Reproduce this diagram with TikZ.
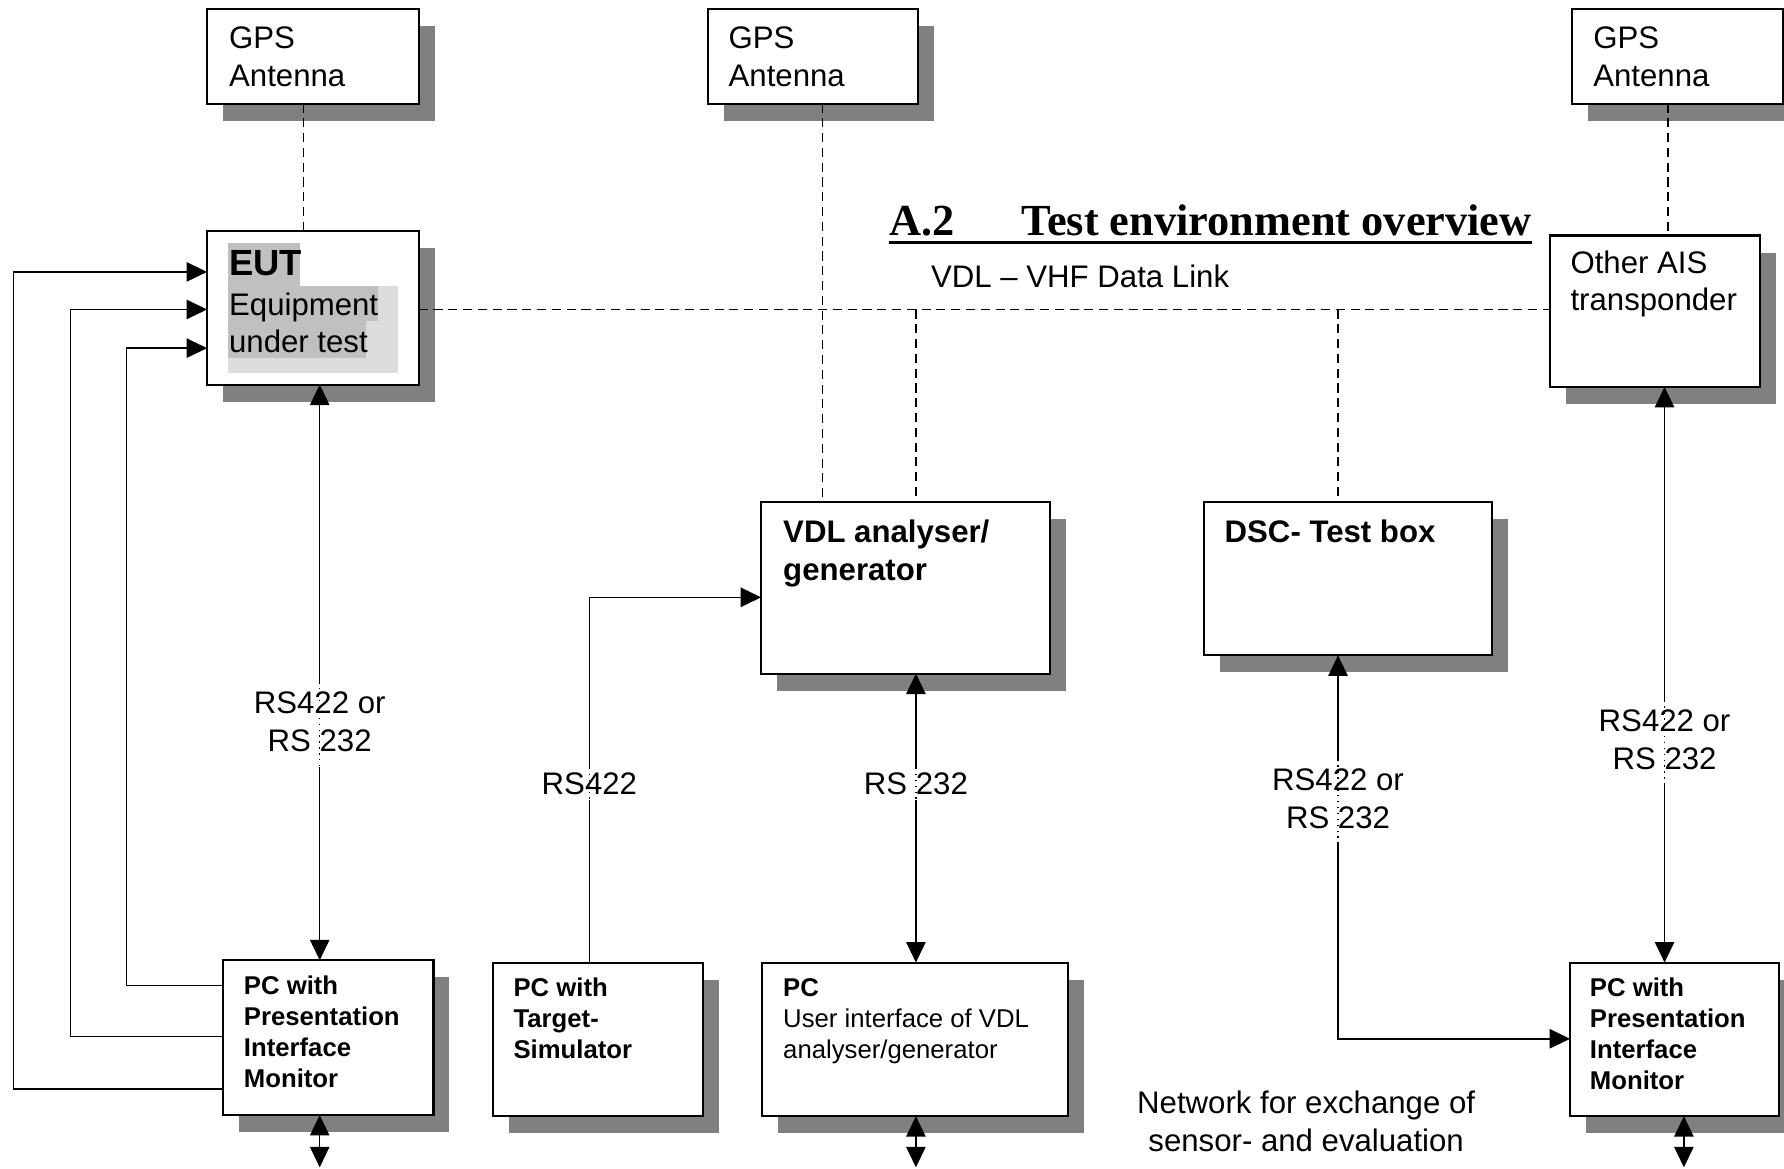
\documentclass[tikz,border=0pt]{standalone}
\usepackage{fontspec}
\setmainfont{Liberation Sans}
\newfontfamily\titlefont{Liberation Serif}
\usetikzlibrary{arrows.meta,shadows}
\definecolor{shadowgray}{HTML}{808080}
\definecolor{hldark}{HTML}{C0C0C0}
\definecolor{hllight}{HTML}{DDDDDD}
\newcommand{\tl}[1]{\begin{tabular}[t]{@{}l@{}}#1\end{tabular}}
\newcommand{\tc}[1]{\begin{tabular}[t]{@{}c@{}}#1\end{tabular}}
\newcommand{\fnorm}{\fontsize{13.7pt}{16.5pt}\selectfont}
\newcommand{\fsmall}{\fontsize{11.3pt}{13.6pt}\selectfont}
\begin{document}
\begin{tikzpicture}[x=0.5pt,y=-0.5pt,
  boxst/.style={draw=black, line width=0.9pt, fill=white, inner sep=0pt, outer sep=0pt,
    drop shadow={shadow xshift=7pt, shadow yshift=-7.5pt, fill=shadowgray, opacity=1}},
  txt/.style={anchor=base west, inner sep=0pt, font=\fnorm},
  stxt/.style={anchor=base west, inner sep=0pt, font=\fsmall\bfseries},
  lbl/.style={fill=white, inner xsep=0pt, inner ysep=2pt, font=\fnorm},
  conn/.style={line width=0.65pt},
  arr/.style={conn, -{Triangle[length=9pt,width=8.5pt]}},
  darr/.style={conn, {Triangle[length=9pt,width=8.5pt]}-{Triangle[length=9pt,width=8.5pt]}},
  bus/.style={line width=0.6pt, dash pattern=on 4pt off 2.5pt},
  dotl/.style={line width=0.6pt, dotted}
]
\clip (0,0) rectangle (1568,1027);
\useasboundingbox (0,0) rectangle (1568,1027);

% ---------- boxes ----------
\node[boxst, minimum width=93pt, minimum height=41.5pt] (gps1) at (275,49.5) {};
\node[boxst, minimum width=92.5pt, minimum height=41.5pt] (gps2) at (714.5,49.5) {};
\node[boxst, minimum width=92.5pt, minimum height=41.5pt] (gps3) at (1474.5,49.5) {};
\node[boxst, minimum width=93pt, minimum height=67.5pt] (eut) at (275,270.5) {};
\node[boxst, minimum width=92.5pt, minimum height=66.5pt] (ais) at (1454.5,273.5) {};
\node[boxst, minimum width=127pt, minimum height=75.5pt] (vdl) at (796,516.5) {};
\node[boxst, minimum width=126.5pt, minimum height=67.5pt] (dsc) at (1184.5,508.5) {};
\node[boxst, minimum width=92.5pt, minimum height=68pt] (pc1) at (288.5,912) {};
\node[boxst, minimum width=92.5pt, minimum height=67.5pt] (pcts) at (525.5,913.5) {};
\node[boxst, minimum width=134.5pt, minimum height=67.5pt] (pcvdl) at (804.5,913.5) {};
\node[boxst, minimum width=92pt, minimum height=67.5pt] (pc2) at (1472,913.5) {};

% ---------- EUT highlight ----------
\fill[hllight] (200,251) rectangle (350,328);
\fill[hldark] (200,214) rectangle (264,251);
\fill[hldark] (200,251) rectangle (332,282);
\fill[hldark] (200,282) rectangle (322,315);

% ---------- box texts ----------
\node[txt] (gps1t) at (201,43) {\tl{GPS\\Antenna}};
\node[txt] (gps2t) at (640,43) {\tl{GPS\\Antenna}};
\node[txt] (gps3t) at (1400,43) {\tl{GPS\\Antenna}};
\node[txt, font=\fontsize{16pt}{19pt}\selectfont\bfseries] (eutt) at (201,242.5) {EUT};
\node[txt] (eutt2) at (201,277) {\tl{Equipment\\under test}};
\node[txt] (aist) at (1380,240) {\tl{Other AIS\\transponder}};
\node[txt, font=\fnorm\bfseries] (vdlt) at (688,477) {\tl{VDL analyser/\\generator}};
\node[txt, font=\fnorm\bfseries] (dsct) at (1076,477) {DSC- Test box};
\node[stxt] (pc1t) at (214,874) {\tl{PC with\\Presentation\\Interface\\Monitor}};
\node[stxt] (pctst) at (451,876) {\tl{PC with\\Target-\\Simulator}};
\node[stxt, font=\fsmall] (pcvdlt) at (688,876) {\tl{\bfseries PC\\User interface of VDL\\analyser/generator}};
\node[stxt] (pc2t) at (1397,876) {\tl{PC with\\Presentation\\Interface\\Monitor}};

% ---------- free texts ----------
\node[anchor=base west, inner sep=0pt, font=\titlefont\bfseries\fontsize{19.5pt}{23pt}\selectfont] (title) at (781,207) {A.2\hspace{29.5pt}Test environment overview};
\draw[line width=1.5pt] ([yshift=-3pt]title.base west) -- ([yshift=-3pt]title.base east);
\node[txt] (vdlink) at (818,253) {VDL -- VHF Data Link};
\node[anchor=base, inner sep=0pt, font=\fnorm] (net) at (1148,979) {\tc{Network for exchange of\\sensor- and evaluation}};

% ---------- dashed radio links ----------
\draw[bus] ([xshift=-4pt]gps1.south) -- ([xshift=-4pt]eut.north);
\draw[bus] ([xshift=4.25pt]gps2.south) -- ([xshift=4.25pt]gps2.south |- vdl.north);
\draw[bus] ([xshift=-4.25pt]gps3.south) -- ([xshift=-4.25pt]gps3.south |- ais.north);
\coordinate (busy) at (0,272);
\coordinate (b1) at (805,272);
\coordinate (b2) at (1176,272);
\draw[bus] (eut.east |- busy) -- (ais.west |- busy);
\draw[bus] (b1) -- (b1 |- vdl.north);
\draw[bus] (b2) -- (b2 |- dsc.north);

% ---------- feedback lines PC -> EUT ----------
\coordinate (fa) at (111,306); \coordinate (fb) at (111,866);
\coordinate (ga) at (62,272);  \coordinate (gb) at (62,911);
\coordinate (ha) at (12,239);  \coordinate (hb) at (12,957);
\draw[arr] (fb -| pc1.west) -- (fb) -- (fa) -- (fa -| eut.west);
\draw[arr] (gb -| pc1.west) -- (gb) -- (ga) -- (ga -| eut.west);
\draw[arr] (hb -| pc1.west) -- (hb) -- (ha) -- (ha -| eut.west);

% ---------- serial links ----------
\coordinate (c1) at (281,0);
\draw[darr] (c1 |- eut.south) -- (c1 |- pc1.north);
\node[lbl] (l1) at (281,637) {\tc{RS422 or\\RS 232}};
\draw[dotl] (l1.north) -- (l1.south);

\coordinate (t1) at (518,525);
\draw[arr] (t1 |- pcts.north) -- (t1) -- (t1 -| vdl.west);
\node[lbl] (l2) at (518,689) {RS422};
\draw[dotl] (l2.north) -- (l2.south);

\coordinate (v1) at (805,0);
\draw[darr] (v1 |- vdl.south) -- (v1 |- pcvdl.north);
\node[lbl] (l3) at (805,689) {RS 232};
\draw[dotl] (l3.north) -- (l3.south);

\coordinate (d1) at (1176,913);
\draw[darr] (d1 |- dsc.south) -- (d1) -- (d1 -| pc2.west);
\node[lbl] (l4) at (1176,705) {\tc{RS422 or\\RS 232}};
\draw[dotl] (l4.north) -- (l4.south);

\coordinate (a1) at (1463,0);
\draw[darr] (a1 |- ais.south) -- (a1 |- pc2.north);
\node[lbl] (l5) at (1463,653) {\tc{RS422 or\\RS 232}};
\draw[dotl] (l5.north) -- (l5.south);

% ---------- network arrows at bottom ----------
\coordinate (n1) at (281,1026);
\coordinate (n2) at (805,1026);
\coordinate (n3) at (1480,1026);
\draw[darr] (n1 |- pc1.south) -- (n1);
\draw[darr] (n2 |- pcvdl.south) -- (n2);
\draw[darr] (n3 |- pc2.south) -- (n3);
\end{tikzpicture}
\end{document}
